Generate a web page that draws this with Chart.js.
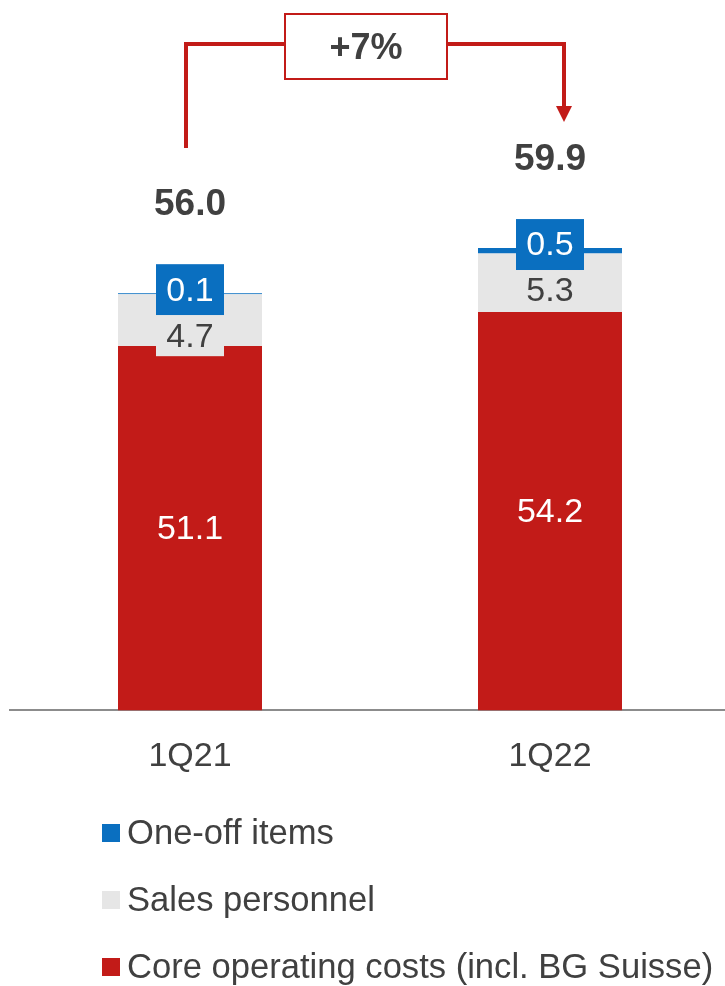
<!DOCTYPE html>
<html>
<head>
<meta charset="utf-8">
<script src="https://cdn.jsdelivr.net/npm/chart.js@4"></script>
<style>
  html, body { margin: 0; padding: 0; background: #fff; overflow: hidden; }
  canvas { display: block; }
</style>
</head>
<body>
<canvas id="costs-chart" width="730" height="986"></canvas>
<script>
const categories = ["1Q21", "1Q22"];
const coreCosts = [51.1, 54.2];
const salesPersonnel = [4.7, 5.3];
const oneOffItems = [0.1, 0.5];
const totals = ["56.0", "59.9"];
const growthLabel = "+7%";

const seriesNames = ["Core operating costs (incl. BG Suisse)", "Sales personnel", "One-off items"];

const RED = "#c21b18";
const GREY = "#e6e6e6";
const BLUE = "#0a6fc0";
const TEXT = "#404040";
const FONT = "'Liberation Sans', Arial, sans-serif";

// segment labels, blue/grey tag boxes and totals on top of each stack
const barLabels = {
  id: "barLabels",
  afterDatasetsDraw(chart) {
    const ctx = chart.ctx;
    const core = chart.getDatasetMeta(0).data;
    const top = chart.getDatasetMeta(2).data;
    const bottom = chart.chartArea.bottom;
    ctx.save();
    ctx.textAlign = "center";
    ctx.textBaseline = "middle";
    core.forEach((bar, i) => {
      ctx.font = `34px ${FONT}`;
      ctx.fillStyle = "#fff";
      ctx.fillText(coreCosts[i].toFixed(1), bar.x, (bar.y + Math.min(bar.base, bottom)) / 2 + 2);

      const blueTop = top[i].y;
      const boxTop = blueTop - 29;
      ctx.fillStyle = BLUE;
      ctx.fillRect(bar.x - 34, boxTop, 68, 51);
      ctx.fillStyle = "#fff";
      ctx.fillText(oneOffItems[i].toFixed(1), bar.x, boxTop + 27);

      ctx.fillStyle = GREY;
      ctx.fillRect(bar.x - 34, boxTop + 51, 68, 41);
      ctx.fillStyle = TEXT;
      ctx.fillText(salesPersonnel[i].toFixed(1), bar.x, boxTop + 73);

      ctx.font = `bold 37px ${FONT}`;
      ctx.fillText(totals[i], bar.x, blueTop - 88);
    });
    ctx.restore();
  },
};

// growth bracket between the two bars plus the stacked legend underneath
const extras = {
  id: "extras",
  afterDraw(chart) {
    const ctx = chart.ctx;
    const bars = chart.getDatasetMeta(0).data;
    const leftX = bars[0].x - 4;
    const rightX = bars[1].x + 14;
    const lineY = 44;
    const boxL = leftX + 99, boxR = leftX + 261;

    ctx.save();
    ctx.strokeStyle = RED;
    ctx.lineWidth = 4;
    ctx.lineJoin = "miter";
    ctx.beginPath();
    ctx.moveTo(leftX, 148);
    ctx.lineTo(leftX, lineY);
    ctx.lineTo(boxL, lineY);
    ctx.moveTo(boxR, lineY);
    ctx.lineTo(rightX, lineY);
    ctx.lineTo(rightX, 108);
    ctx.stroke();

    ctx.fillStyle = RED;
    ctx.beginPath();
    ctx.moveTo(rightX - 8, 106);
    ctx.lineTo(rightX + 8, 106);
    ctx.lineTo(rightX, 122);
    ctx.closePath();
    ctx.fill();

    ctx.lineWidth = 2;
    ctx.strokeRect(boxL, 14, boxR - boxL, 65);
    ctx.fillStyle = TEXT;
    ctx.font = `bold 36px ${FONT}`;
    ctx.textAlign = "center";
    ctx.textBaseline = "middle";
    ctx.fillText(growthLabel, (boxL + boxR) / 2, 49);

    // legend, top series first
    const rows = [833, 900, 967];
    const order = [2, 1, 0];
    ctx.textAlign = "left";
    ctx.font = `34.6px ${FONT}`;
    order.forEach((idx, r) => {
      const ds = chart.data.datasets[idx];
      ctx.fillStyle = ds.backgroundColor;
      ctx.fillRect(102, rows[r] - 9, 18, 18);
      ctx.fillStyle = TEXT;
      ctx.fillText(ds.label, 127, rows[r] + 1);
    });
    ctx.restore();
  },
};

const ctx = document.getElementById("costs-chart").getContext("2d");
new Chart(ctx, {
  type: "bar",
  data: {
    labels: categories,
    datasets: [
      { label: seriesNames[0], data: coreCosts, backgroundColor: RED },
      { label: seriesNames[1], data: salesPersonnel, backgroundColor: GREY },
      { label: seriesNames[2], data: oneOffItems, backgroundColor: BLUE },
    ].map((d) => ({ ...d, borderWidth: 0, barPercentage: 0.4, categoryPercentage: 1 })),
  },
  options: {
    responsive: false,
    animation: false,
    devicePixelRatio: 1,
    layout: { padding: { top: 28, left: 10, right: 0, bottom: 183 } },
    plugins: { legend: { display: false }, tooltip: { enabled: false } },
    scales: {
      x: {
        stacked: true,
        grid: { display: false, drawTicks: false },
        border: { color: "#8c8c8c", width: 2 },
        ticks: { color: TEXT, font: { family: FONT, size: 34 }, padding: 26 },
      },
      y: { stacked: true, display: false, min: 18, max: 80 },
    },
  },
  plugins: [barLabels, extras],
});
</script>
</body>
</html>
